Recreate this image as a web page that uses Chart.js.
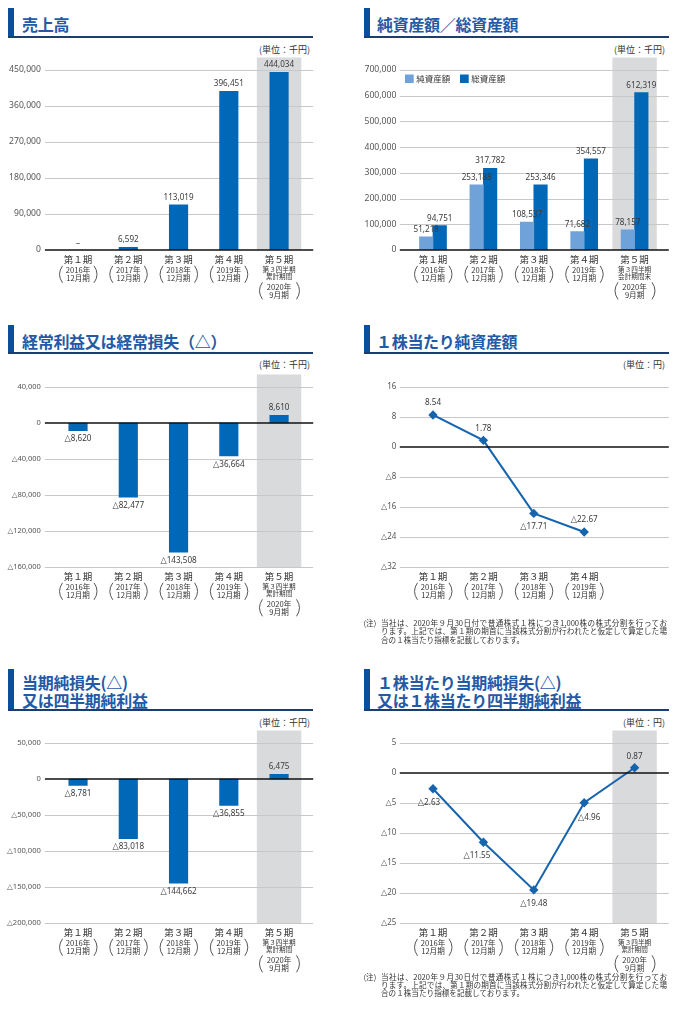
<!DOCTYPE html>
<html lang="ja">
<head>
<meta charset="utf-8">
<script src="https://cdn.jsdelivr.net/npm/chart.js@4.4.0/dist/chart.umd.min.js"></script>
<style>
  body { margin: 0; width: 674px; height: 1010px; position: relative; background: #fff; overflow: hidden;
         font-family: "Noto Sans CJK JP", sans-serif; }
  .tbar { position: absolute; width: 6px; background: #0a4f9d; }
  .rule { position: absolute; height: 1.5px; width: 305px; background: #1c3d70; }
  .ttl { position: absolute; font-weight: bold; font-size: 16px; line-height: 18.3px; color: #2459a6;
         white-space: nowrap; letter-spacing: -0.3px; }
  .unit { position: absolute; font-size: 9px; line-height: 12px; color: #333; white-space: nowrap; }
  .note { position: absolute; font-size: 7.6px; line-height: 8.35px; color: #333; }
  .note .tag { position: absolute; left: 0; top: 0; }
  .note .body { position: absolute; left: 17.5px; top: 0; width: 286px; }
  .note .j { text-align: justify; text-align-last: justify; white-space: nowrap; }
  canvas { position: absolute; }
</style>
</head>
<body>

<!-- titles -->
<div class="tbar" style="left:8px;top:8px;height:29px"></div>
<div class="rule" style="left:8px;top:36px"></div>
<div class="ttl" style="left:22px;top:15px">売上高</div>

<div class="tbar" style="left:364px;top:8px;height:29px"></div>
<div class="rule" style="left:364px;top:36px"></div>
<div class="ttl" style="left:377px;top:15px">純資産額／総資産額</div>

<div class="tbar" style="left:8px;top:325px;height:28px"></div>
<div class="rule" style="left:8px;top:352px"></div>
<div class="ttl" style="left:22px;top:332px">経常利益又は経常損失（△）</div>

<div class="tbar" style="left:364px;top:325px;height:28px"></div>
<div class="rule" style="left:364px;top:352px"></div>
<div class="ttl" style="left:376px;top:332px">１株当たり純資産額</div>

<div class="tbar" style="left:8px;top:669px;height:41px"></div>
<div class="rule" style="left:8px;top:709px"></div>
<div class="ttl" style="left:22px;top:672.5px">当期純損失(△)<br>又は四半期純利益</div>

<div class="tbar" style="left:364px;top:669px;height:41px"></div>
<div class="rule" style="left:364px;top:709px"></div>
<div class="ttl" style="left:377px;top:672.5px">１株当たり当期純損失(△)<br>又は１株当たり四半期純利益</div>

<!-- units -->
<div class="unit" style="right:364px;top:44px">(単位：千円)</div>
<div class="unit" style="right:9px;top:44px">(単位：千円)</div>
<div class="unit" style="right:364px;top:359px">(単位：千円)</div>
<div class="unit" style="right:9px;top:359px">(単位：円)</div>
<div class="unit" style="right:364px;top:717px">(単位：千円)</div>
<div class="unit" style="right:9px;top:717px">(単位：円)</div>

<canvas id="sales" width="337" height="280" style="left:0;top:40px"></canvas>
<canvas id="assets" width="337" height="280" style="left:337px;top:40px"></canvas>
<canvas id="ordinary" width="337" height="280" style="left:0;top:357px"></canvas>
<canvas id="bps" width="337" height="280" style="left:337px;top:357px"></canvas>
<canvas id="netIncome" width="337" height="280" style="left:0;top:713px"></canvas>
<canvas id="eps" width="337" height="280" style="left:337px;top:713px"></canvas>

<!-- notes -->
<div class="note" style="left:363.5px;top:619px">
  <div class="tag">(注)</div>
  <div class="body">
    <div class="j">当社は、2020年９月30日付で普通株式１株につき1,000株の株式分割を行ってお</div>
    <div class="j">ります。上記では、第１期の期首に当該株式分割が行われたと仮定して算定した場</div>
    <div>合の１株当たり指標を記載しております。</div>
  </div>
</div>
<div class="note" style="left:363.5px;top:972.5px">
  <div class="tag">(注)</div>
  <div class="body">
    <div class="j">当社は、2020年９月30日付で普通株式１株につき1,000株の株式分割を行ってお</div>
    <div class="j">ります。上記では、第１期の期首に当該株式分割が行われたと仮定して算定した場</div>
    <div>合の１株当たり指標を記載しております。</div>
  </div>
</div>

<script>
// categories
const periods = ['第１期', '第２期', '第３期', '第４期', '第５期'];
const fyYears = ['2016年', '2017年', '2018年', '2019年', '2020年'];
const fyMonths = ['12月期', '12月期', '12月期', '12月期', '9月期'];
const q3Cumulative = ['第３四半期', '累計期間'];
const q3PeriodEnd = ['第３四半期', '会計期間末'];

// series (千円 / 円)
const salesValues = [null, 6592, 113019, 396451, 444034];
const netAssets = [51218, 253188, 108537, 71682, 78157];
const totalAssets = [94751, 317782, 253346, 354557, 612319];
const ordinaryIncome = [-8620, -82477, -143508, -36664, 8610];
const bpsValues = [8.54, 1.78, -17.71, -22.67, null];
const netIncomeValues = [-8781, -83018, -144662, -36855, 6475];
const epsValues = [-2.63, -11.55, -19.48, -4.96, 0.87];

const BLUE = '#0068b6';
const LIGHT = '#6fa2d8';
const FONT = '"Noto Sans", "DejaVu Sans", sans-serif';
const JP = '"Noto Sans CJK JP", sans-serif';

// label offsets for the line charts (dx, dy from the point)
const bpsLabelPos = [[0, -12.3], [0, -12.3], [0, 13.4], [0, -12.4]];
const epsLabelPos = [[-4, 14], [-6.5, 13.5], [0, 13.5], [5, 15], [0, -11.7]];

function fmtK(v) {
    const s = Math.abs(v).toLocaleString('en-US');
    return v < 0 ? '△' + s : s;
}
function fmtYen(v) {
    const s = Math.abs(v).toFixed(2);
    return v < 0 ? '△' + s : s;
}
function fmtInt(v) {
    return v < 0 ? '△' + Math.abs(v) : String(v);
}

function squeezeText(ctx, s, x, y, size, sx) {
    ctx.save();
    ctx.translate(x, y);
    ctx.scale(sx, 1);
    ctx.font = size + 'px ' + FONT;
    ctx.textAlign = 'center';
    ctx.textBaseline = 'middle';
    ctx.fillStyle = '#3a3a3a';
    ctx.fillText(s, 0, 0);
    ctx.restore();
}

function paren(ctx, x, top, bot, dir) {
    ctx.beginPath();
    ctx.moveTo(x, top);
    ctx.quadraticCurveTo(x + dir * 6, (top + bot) / 2, x, bot);
    ctx.stroke();
}

function drawXLabels(chart, o) {
    const ctx = chart.ctx, x = chart.scales.x, base = chart.chartArea.bottom;
    ctx.save();
    ctx.fillStyle = '#333';
    ctx.strokeStyle = '#444';
    ctx.lineWidth = 0.9;
    ctx.textAlign = 'center';
    ctx.textBaseline = 'middle';
    for (let i = 0; i < o.count; i++) {
        const cx = x.getPixelForValue(i);
        ctx.font = '9.5px ' + JP;
        ctx.fillText(periods[i], cx, base + 9.3);
        let y0 = base + 20.3, pl = 15.5, pr = 16;
        if (i === 4 && o.lastSub) {
            ctx.font = '6.6px ' + JP;
            ctx.fillText(o.lastSub[0], cx, base + 19.4);
            ctx.fillText(o.lastSub[1], cx, base + 26.4);
            y0 = base + 36.8;
            pl = 16.6; pr = 17.4;
        }
        ctx.font = '7.6px ' + JP;
        ctx.fillText(fyYears[i], cx, y0);
        ctx.fillText(fyMonths[i], cx, y0 + 8.2);
        paren(ctx, cx - pl, y0 - 4.5, y0 + 12.5, -1);
        paren(ctx, cx + pr, y0 - 4.5, y0 + 12.5, 1);
    }
    ctx.restore();
}

const panelPlugin = {
    id: 'panel',
    beforeDatasetsDraw(chart, args, o) {
        const { ctx, chartArea: a, scales: { x, y } } = chart;
        ctx.save();
        if (o.band) {
            const cx = x.getPixelForValue(4);
            ctx.fillStyle = '#d9dadc';
            ctx.fillRect(cx - 22.2, a.top - 12.5, 44.4, a.bottom - a.top + 12.5);
        }
        ctx.strokeStyle = '#c8c8c8';
        ctx.lineWidth = 1;
        y.ticks.forEach(t => {
            if (t.value === 0) return;
            const py = Math.round(y.getPixelForValue(t.value)) + 0.5;
            ctx.beginPath();
            ctx.moveTo(a.left - 8, py);
            ctx.lineTo(a.right + 9, py);
            ctx.stroke();
        });
        ctx.restore();
    },
    afterDatasetsDraw(chart, args, o) {
        const { ctx, chartArea: a, scales: { y } } = chart;
        const zy = y.getPixelForValue(0);
        ctx.save();
        ctx.strokeStyle = '#111';
        ctx.lineWidth = 1.5;
        ctx.beginPath();
        ctx.moveTo(a.left - 8, zy);
        ctx.lineTo(a.right + 9, zy);
        ctx.stroke();
        ctx.restore();

        chart.data.datasets.forEach((ds, di) => {
            const meta = chart.getDatasetMeta(di);
            ds.data.forEach((v, i) => {
                const el = meta.data[i];
                if (!el) return;
                if (chart.config.type === 'line') {
                    if (v === null) return;
                    const off = o.labelPos[i];
                    squeezeText(ctx, fmtYen(v), el.x + off[0], el.y + off[1], 9, 0.9);
                } else if (v === null) {
                    squeezeText(ctx, '–', el.x, zy - 7, 9, 0.9);
                } else if (v >= 0) {
                    squeezeText(ctx, fmtK(v), el.x, el.y - 7.5, 9, 0.9);
                } else {
                    squeezeText(ctx, fmtK(v), el.x, el.y + 8, 9, 0.9);
                }
            });
        });

        if (o.legend) {
            ctx.save();
            ctx.font = '8.5px ' + JP;
            ctx.textBaseline = 'middle';
            ctx.fillStyle = LIGHT;
            ctx.fillRect(a.left - 2.8, a.top + 4.5, 8.7, 8.5);
            ctx.fillStyle = BLUE;
            ctx.fillRect(a.left + 52.2, a.top + 4.5, 8.7, 8.5);
            ctx.fillStyle = '#333';
            chart.data.datasets.forEach((ds, di) => {
                ctx.fillText(ds.label, a.left + 8.5 + di * 55, a.top + 8.8);
            });
            ctx.restore();
        }
        drawXLabels(chart, o);
    }
};

function makePanel(id, type, datasets, o) {
    const right = o.side === 'R';
    return new Chart(document.getElementById(id), {
        type: type,
        data: { labels: periods, datasets: datasets },
        options: {
            responsive: false,
            animation: false,
            devicePixelRatio: 1,
            layout: { padding: { top: 30, bottom: 70, left: 0, right: right ? 14.2 : 32.8 } },
            plugins: {
                legend: { display: false },
                tooltip: { enabled: false },
                panel: Object.assign({ count: 5 }, o)
            },
            scales: {
                x: { display: false, offset: true },
                y: {
                    min: o.min, max: o.max,
                    grid: { display: false, drawTicks: false },
                    border: { display: false },
                    ticks: {
                        stepSize: o.step,
                        padding: right ? 11.5 : 12,
                        color: '#555',
                        font: { size: o.tickSize, family: FONT },
                        callback: o.tick
                    },
                    afterFit: s => { s.width = right ? 70.8 : 52.9; }
                }
            }
        },
        plugins: [panelPlugin]
    });
}

function barSet(label, values, color, thickness) {
    return { label: label, data: values, backgroundColor: color, borderWidth: 0, barThickness: thickness };
}
function lineSet(label, values) {
    return {
        label: label, data: values, borderColor: '#1664ae', borderWidth: 2, tension: 0,
        pointStyle: 'rectRot', pointRadius: 4.7, pointBackgroundColor: '#1664ae', pointBorderWidth: 0, clip: false
    };
}

makePanel('sales', 'bar', [barSet('売上高', salesValues, BLUE, 18.5)],
    { side: 'L', min: 0, max: 450000, step: 90000, tick: fmtK, tickSize: 8.6, band: true, lastSub: q3Cumulative });

makePanel('assets', 'bar', [barSet('純資産額', netAssets, LIGHT, 13.5), barSet('総資産額', totalAssets, BLUE, 13.5)],
    { side: 'R', min: 0, max: 700000, step: 100000, tick: fmtK, tickSize: 8.6, band: true, legend: true, lastSub: q3PeriodEnd });

makePanel('ordinary', 'bar', [barSet('経常利益', ordinaryIncome, BLUE, 18.5)],
    { side: 'L', min: -160000, max: 40000, step: 40000, tick: fmtK, tickSize: 7.5, band: true, lastSub: q3Cumulative });

makePanel('bps', 'line', [lineSet('１株当たり純資産額', bpsValues)],
    { side: 'R', min: -32, max: 16, step: 8, tick: fmtInt, tickSize: 8, band: false, count: 4, labelPos: bpsLabelPos });

makePanel('netIncome', 'bar', [barSet('当期純利益', netIncomeValues, BLUE, 18.5)],
    { side: 'L', min: -200000, max: 50000, step: 50000, tick: fmtK, tickSize: 7.6, band: true, lastSub: q3Cumulative });

makePanel('eps', 'line', [lineSet('１株当たり当期純利益', epsValues)],
    { side: 'R', min: -25, max: 5, step: 5, tick: fmtInt, tickSize: 8, band: true, labelPos: epsLabelPos, lastSub: q3Cumulative });
</script>
</body>
</html>
